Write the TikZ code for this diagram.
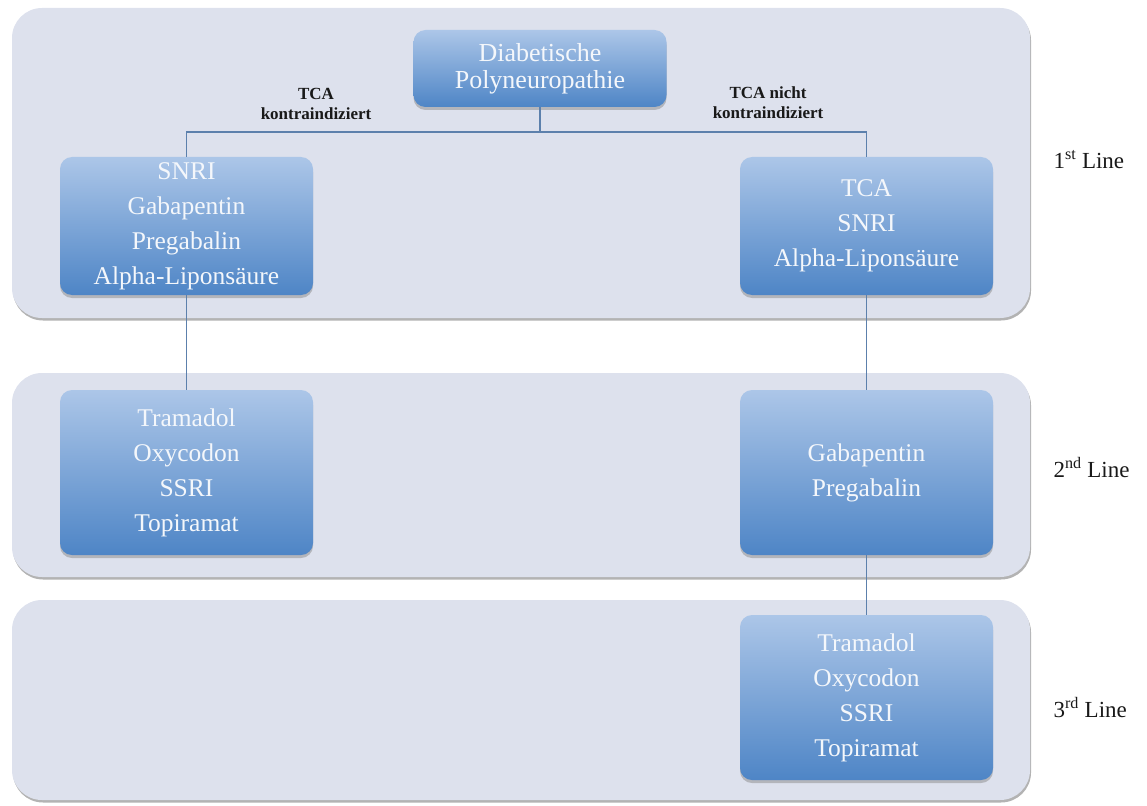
\documentclass[tikz,border=0pt]{standalone}
\usepackage{fontspec}
\setmainfont{Liberation Serif}
\usepackage{xcolor}
\usepackage{tikz}
\usetikzlibrary{shadows, positioning, calc}
\definecolor{bandfill}{RGB}{221,225,237}
\definecolor{boxtop}{RGB}{172,198,232}
\definecolor{boxbot}{RGB}{78,133,198}
\definecolor{linkblue}{RGB}{92,128,172}
\definecolor{labeldark}{RGB}{25,25,25}
\definecolor{boxtext}{RGB}{244,247,251}
\tikzset{
  band/.style={fill=bandfill, rounded corners=30pt,
    drop shadow={shadow xshift=1pt, shadow yshift=-2.5pt, fill=black!50, opacity=.6}},
  drug/.style={rectangle, rounded corners=12pt, top color=boxtop, bottom color=boxbot,
    minimum width=253pt, text width=245pt, align=center, inner sep=0pt,
    text=boxtext, font=\fontsize{25.5}{35}\selectfont,
    drop shadow={shadow xshift=0pt, shadow yshift=-3pt, fill=black!50, opacity=.45}},
  link/.style={draw=linkblue, line width=1.3pt},
  cond/.style={align=center, text=labeldark, font=\fontsize{17}{20}\selectfont\bfseries},
  level/.style={anchor=west, text=labeldark, font=\fontsize{23}{26}\selectfont}
}

\begin{document}
\begin{tikzpicture}[x=1pt, y=-1pt]
    \useasboundingbox (0,0) rectangle (1147,805);

    % Bands
    \path[band] (12,8) rectangle (1030,318);
    \path[band] (12,373) rectangle (1030,577);
    \path[band] (12,600) rectangle (1030,800);

    % Start
    \node[drug, minimum height=77pt, font=\fontsize{26}{27}\selectfont] (dpn) at (540,68.5)
      {Diabetische\\Polyneuropathie};

    % 1st line
    \node[drug, minimum height=138pt] (firstL) at (186.5,226)
      {SNRI\\Gabapentin\\Pregabalin\\Alpha-Liponsäure};
    \node[drug, minimum height=138pt] (firstR) at (866.5,226)
      {TCA\\SNRI\\Alpha-Liponsäure};

    % 2nd line
    \node[drug, minimum height=165pt] (secondL) at (186.5,472.5)
      {Tramadol\\Oxycodon\\SSRI\\Topiramat};
    \node[drug, minimum height=165pt] (secondR) at (866.5,472.5)
      {Gabapentin\\Pregabalin};

    % 3rd line
    \node[drug, minimum height=165pt] (thirdR) at (866.5,697.5)
      {Tramadol\\Oxycodon\\SSRI\\Topiramat};

    % Connectors
    \coordinate (split) at (540,132);
    \draw[link] (dpn.south) -- (split) -| (firstL.north);
    \draw[link] (split) -| (firstR.north);
    \draw[link] (firstL.south) -- (secondL.north);
    \draw[link] (firstR.south) -- (secondR.north);
    \draw[link] (secondR.south) -- (thirdR.north);

    % Conditions
    \node[cond] (ci) at (316,104) {TCA\\kontraindiziert};
    \node[cond] (nci) at (768,103) {TCA nicht\\kontraindiziert};

    % Levels
    \node[level] (lvl1) at (1050,160) {1\textsuperscript{st} Line};
    \node[level] (lvl2) at (1050,468) {2\textsuperscript{nd} Line};
    \node[level] (lvl3) at (1050,708) {3\textsuperscript{rd} Line};
\end{tikzpicture}
\end{document}
